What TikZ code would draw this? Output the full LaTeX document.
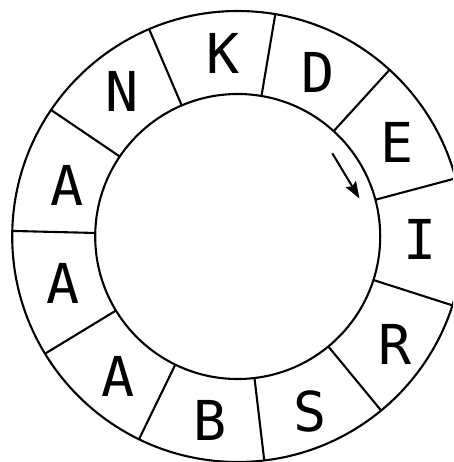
\documentclass[tikz,border=0pt]{standalone}
\usepackage{fontspec}
\newfontfamily\ringfont{DejaVu Sans Mono}
\usetikzlibrary{arrows.meta,calc}
\begin{document}
\begin{tikzpicture}[x=1pt,y=-1pt,
  ringline/.style={line width=2.1pt,black},
  letter/.style={font=\ringfont\fontsize{55}{55}\selectfont,inner sep=0pt,anchor=center},
  dirarrow/.style={line width=2pt,-{Stealth[length=17pt,width=12pt,inset=3pt]}}]
\useasboundingbox (0,0) rectangle (453,462);
\clip (0,0) rectangle (453,462);
\coordinate (c) at (237.7,236.5);
\draw[ringline] (c) circle[radius=225.5];
\draw[ringline] (c) circle[radius=142.5];
\foreach \k in {0,...,10}{
  \pgfmathsetmacro{\ang}{80.4-\k*32.727}
  \draw[ringline] ($(c)+(\ang:142.5pt)$) -- ($(c)+(\ang:225.5pt)$);
}
\node[letter] (K) at (223,53) {K};
\node[letter] (D) at (318,72) {D};
\node[letter] (E) at (397,142) {E};
\node[letter] (I) at (420.5,239) {I};
\node[letter] (R) at (395,344) {R};
\node[letter] (S) at (310,411) {S};
\node[letter] (B) at (210,420) {B};
\node[letter] (A1) at (118,376) {A};
\node[letter] (A2) at (63,283) {A};
\node[letter] (A3) at (67.5,185) {A};
\node[letter] (N) at (122.5,91.5) {N};
\coordinate (as) at (332.3,153.3);
\coordinate (ae) at (359.5,198.5);
\draw[dirarrow] (as) -- (ae);
\end{tikzpicture}
\end{document}
